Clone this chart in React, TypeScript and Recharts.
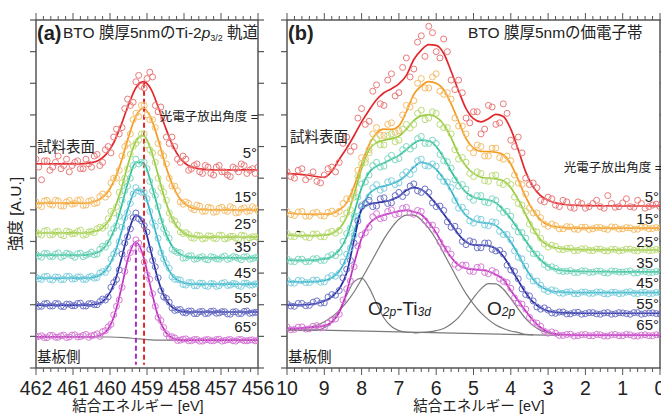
import React from 'react';
import { ComposedChart, Line, Scatter, XAxis, YAxis, ReferenceArea } from 'recharts';

const FONT = "'Liberation Sans', 'Noto Sans CJK JP', Arial, sans-serif";
const AXIS = '#555';

// ---------- shared ----------
const angleLabels = ['5°', '15°', '25°', '35°', '45°', '55°', '65°'];
const LINE_COLORS = ['#e3262c', '#f39a1f', '#98c93c', '#2fbf9a', '#2fb3c8', '#262aa0', '#c22fc0'];
const PT_COLORS = ['#ea7a7a', '#f5be6a', '#bcdc7a', '#7fd8c0', '#7fd0de', '#6f74c8', '#d77ad6'];
const yTicks = [0, 1, 2, 3, 4, 5, 6, 7, 8, 9, 10, 11];

// ---------- panel (a): Ti-2p3/2 ----------
const tiMajorTicks = [462, 461, 460, 459, 458, 457, 456];
const tiFitE = [462, 461.5, 461, 460.7, 460.5, 460.3, 460.1, 459.9, 459.7, 459.5, 459.3, 459.1, 458.9, 458.7, 458.5, 458.3, 458.1, 457.9, 457.6, 457.2, 456.8, 456.4, 456];
const tiFit05 = [6.45, 6.45, 6.45, 6.46, 6.49, 6.57, 6.76, 7.12, 7.68, 8.32, 8.86, 9.05, 8.83, 8.26, 7.6, 7.02, 6.62, 6.41, 6.3, 6.26, 6.26, 6.26, 6.26];
const tiFit15 = [5.21, 5.21, 5.21, 5.21, 5.24, 5.32, 5.5, 5.89, 6.51, 7.3, 7.96, 8.21, 7.92, 7.23, 6.41, 5.76, 5.33, 5.13, 5.01, 5.0, 5.0, 5.0, 5.0];
const tiFit25 = [4.27, 4.27, 4.27, 4.27, 4.3, 4.36, 4.55, 4.96, 5.64, 6.49, 7.17, 7.35, 6.92, 6.1, 5.28, 4.68, 4.35, 4.2, 4.14, 4.14, 4.14, 4.14, 4.14];
const tiFit35 = [3.57, 3.57, 3.57, 3.57, 3.6, 3.67, 3.88, 4.33, 5.07, 5.92, 6.5, 6.49, 5.89, 5.04, 4.28, 3.81, 3.6, 3.51, 3.48, 3.48, 3.48, 3.48, 3.48];
const tiFit45 = [2.84, 2.84, 2.84, 2.84, 2.86, 2.92, 3.11, 3.54, 4.26, 5.09, 5.63, 5.56, 4.88, 4.02, 3.31, 2.9, 2.73, 2.67, 2.65, 2.65, 2.65, 2.65, 2.65];
const tiFit55 = [1.99, 1.99, 1.99, 1.99, 2.0, 2.04, 2.21, 2.63, 3.41, 4.31, 4.83, 4.57, 3.71, 2.79, 2.19, 1.9, 1.8, 1.77, 1.77, 1.77, 1.77, 1.77, 1.77];
const tiFit65 = [0.98, 0.98, 0.98, 0.98, 0.98, 1.02, 1.16, 1.6, 2.48, 3.51, 3.99, 3.54, 2.54, 1.64, 1.14, 0.94, 0.89, 0.88, 0.88, 0.88, 0.88, 0.88, 0.88];

// measured points, first pass
const tiPtE = [462, 461.85, 461.7, 461.55, 461.4, 461.25, 461.1, 460.95, 460.8, 460.65, 460.5, 460.35, 460.2, 460.05, 459.9, 459.75, 459.6, 459.45, 459.3, 459.15, 459.0, 458.85, 458.7, 458.55, 458.4, 458.25, 458.1, 457.95, 457.8, 457.65, 457.5, 457.35, 457.2, 457.05, 456.9, 456.75, 456.6, 456.45, 456.3, 456.15, 456];
const tiPt05 = [6.6, 5.95, 6.55, 6.35, 6.7, 6.4, 6.2, 6.5, 6.3, 6.6, 6.35, 6.75, 6.5, 7.0, 7.3, 7.4, 8.2, 8.3, 9.05, 8.9, 9.15, 9.2, 8.1, 7.9, 7.1, 7.0, 6.5, 6.6, 6.3, 6.45, 6.15, 6.35, 6.1, 6.4, 6.2, 6.05, 6.3, 6.45, 6.15, 6.3, 6.35];
const tiPt15 = [5.25, 5.1, 5.3, 5.15, 5.28, 5.12, 5.3, 5.2, 5.32, 5.15, 5.3, 5.22, 5.5, 5.5, 6.0, 6.25, 7.0, 7.4, 8.05, 8.3, 8.0, 7.85, 7.1, 6.7, 6.0, 5.75, 5.25, 5.25, 5.05, 5.15, 4.95, 5.08, 4.92, 5.05, 4.98, 5.1, 4.9, 5.02, 4.95, 5.1, 4.97];
const tiPt25 = [4.3, 4.2, 4.35, 4.22, 4.32, 4.18, 4.3, 4.25, 4.36, 4.22, 4.32, 4.4, 4.42, 4.72, 4.9, 5.55, 6.0, 6.75, 7.1, 7.4, 7.05, 6.8, 6.0, 5.55, 4.9, 4.65, 4.3, 4.28, 4.12, 4.2, 4.08, 4.18, 4.1, 4.2, 4.08, 4.16, 4.1, 4.2, 4.06, 4.15, 4.12];
const tiPt35 = [3.6, 3.5, 3.62, 3.52, 3.64, 3.55, 3.6, 3.5, 3.63, 3.56, 3.66, 3.6, 3.85, 3.95, 4.4, 4.8, 5.6, 6.0, 6.6, 6.5, 6.3, 5.6, 5.1, 4.4, 4.1, 3.7, 3.65, 3.48, 3.55, 3.45, 3.52, 3.42, 3.5, 3.44, 3.54, 3.46, 3.5, 3.42, 3.52, 3.46, 3.5];
const tiPt45 = [2.88, 2.8, 2.9, 2.78, 2.87, 2.8, 2.9, 2.82, 2.88, 2.8, 2.9, 2.86, 3.05, 3.15, 3.6, 4.0, 4.75, 5.2, 5.7, 5.55, 5.35, 4.6, 4.1, 3.45, 3.15, 2.8, 2.78, 2.62, 2.7, 2.6, 2.68, 2.58, 2.66, 2.6, 2.7, 2.62, 2.66, 2.58, 2.68, 2.62, 2.66];
const tiPt55 = [2.02, 1.95, 2.04, 1.96, 2.03, 1.94, 2.02, 1.97, 2.05, 1.96, 2.04, 2.0, 2.18, 2.25, 2.7, 3.1, 3.95, 4.4, 4.9, 4.65, 4.3, 3.4, 2.85, 2.25, 2.08, 1.82, 1.85, 1.74, 1.8, 1.72, 1.79, 1.73, 1.8, 1.74, 1.78, 1.7, 1.78, 1.72, 1.8, 1.74, 1.76];
const tiPt65 = [0.98, 1.02, 0.96, 1.03, 0.97, 1.04, 0.98, 1.05, 0.99, 1.06, 1.02, 1.08, 1.15, 1.3, 1.68, 2.15, 3.05, 3.65, 4.05, 3.75, 2.95, 2.35, 1.6, 1.28, 0.98, 0.95, 0.88, 0.92, 0.86, 0.9, 0.85, 0.9, 0.86, 0.91, 0.87, 0.9, 0.85, 0.9, 0.86, 0.89, 0.87];

// measured points, interleaved pass
const tiPtE2 = [461.925, 461.775, 461.625, 461.475, 461.325, 461.175, 461.025, 460.875, 460.725, 460.575, 460.425, 460.275, 460.125, 459.975, 459.825, 459.675, 459.525, 459.375, 459.225, 459.075, 458.925, 458.775, 458.625, 458.475, 458.325, 458.175, 458.025, 457.875, 457.725, 457.575, 457.425, 457.275, 457.125, 456.975, 456.825, 456.675, 456.525, 456.375, 456.225, 456.075];
const tiPt05b = [6.35, 6.55, 6.25, 6.5, 6.3, 6.6, 6.4, 6.55, 6.3, 6.45, 6.7, 6.4, 6.9, 6.8, 7.55, 7.6, 8.5, 8.4, 9.25, 8.85, 9.35, 8.3, 8.25, 7.3, 7.3, 6.6, 6.7, 6.25, 6.4, 6.2, 6.4, 6.15, 6.35, 6.2, 6.1, 6.35, 6.2, 6.4, 6.25, 6.15];
const tiPt15b = [5.15, 5.28, 5.18, 5.3, 5.12, 5.25, 5.18, 5.3, 5.14, 5.27, 5.2, 5.42, 5.4, 5.85, 6.0, 6.7, 7.1, 7.85, 7.95, 8.3, 7.85, 7.6, 6.8, 6.45, 5.75, 5.6, 5.18, 5.2, 5.0, 5.12, 4.96, 5.06, 4.94, 5.08, 4.95, 5.05, 4.92, 5.06, 4.97, 5.04];
const tiPt25b = [4.24, 4.33, 4.2, 4.3, 4.21, 4.33, 4.24, 4.32, 4.2, 4.3, 4.28, 4.45, 4.5, 4.95, 5.1, 5.85, 6.3, 7.0, 7.2, 7.4, 6.9, 6.5, 5.7, 5.3, 4.7, 4.52, 4.25, 4.22, 4.1, 4.18, 4.1, 4.17, 4.09, 4.19, 4.1, 4.16, 4.08, 4.18, 4.11, 4.15];
const tiPt35b = [3.54, 3.62, 3.53, 3.6, 3.5, 3.63, 3.55, 3.61, 3.52, 3.6, 3.58, 3.75, 3.82, 4.25, 4.5, 5.3, 5.75, 6.4, 6.45, 6.5, 5.9, 5.45, 4.65, 4.25, 3.75, 3.65, 3.47, 3.54, 3.44, 3.5, 3.44, 3.52, 3.45, 3.5, 3.43, 3.52, 3.46, 3.51, 3.44, 3.49];
const tiPt45b = [2.82, 2.89, 2.8, 2.88, 2.79, 2.9, 2.81, 2.88, 2.8, 2.87, 2.84, 3.0, 3.02, 3.45, 3.7, 4.45, 4.92, 5.5, 5.6, 5.55, 4.95, 4.48, 3.65, 3.3, 2.88, 2.8, 2.64, 2.7, 2.6, 2.68, 2.6, 2.67, 2.58, 2.68, 2.61, 2.67, 2.6, 2.68, 2.62, 2.66];
const tiPt55b = [1.95, 2.03, 1.96, 2.04, 1.95, 2.02, 1.97, 2.04, 1.96, 2.03, 2.0, 2.1, 2.15, 2.55, 2.8, 3.6, 4.15, 4.75, 4.72, 4.5, 3.75, 3.2, 2.45, 2.2, 1.9, 1.84, 1.76, 1.8, 1.72, 1.78, 1.72, 1.79, 1.73, 1.78, 1.71, 1.77, 1.72, 1.79, 1.73, 1.76];
const tiPt65b = [1.0, 0.96, 1.03, 0.97, 1.02, 0.96, 1.04, 0.98, 1.03, 0.97, 1.04, 1.0, 1.18, 1.38, 1.95, 2.55, 3.45, 3.8, 3.95, 3.35, 2.8, 1.95, 1.5, 1.08, 0.99, 0.87, 0.91, 0.86, 0.9, 0.85, 0.89, 0.86, 0.9, 0.85, 0.89, 0.86, 0.9, 0.86, 0.88, 0.86];

const tiBgE = [462, 460.0, 459.6, 459.3, 459.0, 458.6, 456];
const tiBgV = [0.99, 0.98, 0.96, 0.93, 0.9, 0.88, 0.87];
const tiPeakE = [459.08, 459.3];
const tiPeakTop = [9.02, 3.99];
const tiPeakBottom = 0.1;

// ---------- panel (b): valence band ----------
const vbMajorTicks = [10, 9, 8, 7, 6, 5, 4, 3, 2, 1, 0];
const vbFitE = [10, 9.5, 9.0, 8.8, 8.6, 8.4, 8.2, 8.0, 7.8, 7.6, 7.4, 7.2, 7.0, 6.8, 6.6, 6.4, 6.2, 6.0, 5.8, 5.6, 5.4, 5.2, 5.0, 4.8, 4.6, 4.4, 4.2, 4.0, 3.8, 3.6, 3.4, 3.2, 3.0, 2.8, 2.5, 2.0, 1.0, 0];
const vbFit05 = [6.15, 6.1, 6.03, 6.22, 6.6, 6.95, 7.35, 7.78, 8.15, 8.48, 8.7, 8.83, 8.98, 9.25, 9.75, 10.05, 10.22, 10.2, 9.95, 9.38, 8.76, 8.2, 7.88, 7.78, 7.88, 8.02, 7.95, 7.55, 6.9, 6.2, 5.72, 5.45, 5.3, 5.22, 5.16, 5.13, 5.12, 5.12];
const vbFit15 = [4.9, 4.86, 4.86, 4.88, 5.0, 5.22, 5.75, 6.45, 7.05, 7.42, 7.55, 7.54, 7.65, 8.1, 8.65, 8.92, 9.05, 9.0, 8.8, 8.35, 7.8, 7.25, 6.95, 6.85, 6.84, 6.82, 6.74, 6.45, 5.95, 5.4, 4.98, 4.68, 4.52, 4.47, 4.43, 4.42, 4.42, 4.42];
const vbFit25 = [4.2, 4.18, 4.2, 4.25, 4.4, 4.78, 5.5, 6.3, 6.9, 7.12, 7.2, 7.25, 7.33, 7.55, 7.82, 7.97, 8.0, 7.93, 7.7, 7.28, 6.75, 6.38, 6.15, 6.03, 6.0, 5.98, 5.92, 5.7, 5.32, 4.85, 4.4, 4.05, 3.88, 3.8, 3.76, 3.74, 3.73, 3.73];
const vbFit35 = [3.41, 3.4, 3.45, 3.52, 3.72, 4.15, 4.9, 5.7, 6.18, 6.38, 6.48, 6.6, 6.72, 6.9, 7.1, 7.2, 7.18, 7.0, 6.65, 6.22, 5.85, 5.55, 5.4, 5.34, 5.31, 5.22, 5.0, 4.72, 4.38, 4.02, 3.68, 3.42, 3.22, 3.12, 3.07, 3.05, 3.04, 3.04];
const vbFit45 = [2.73, 2.72, 2.76, 2.85, 3.05, 3.5, 4.3, 5.05, 5.5, 5.68, 5.75, 5.82, 5.92, 6.1, 6.35, 6.5, 6.45, 6.28, 5.98, 5.6, 5.15, 4.82, 4.66, 4.6, 4.58, 4.5, 4.3, 3.98, 3.58, 3.15, 2.8, 2.58, 2.46, 2.41, 2.39, 2.38, 2.38, 2.38];
const vbFit55 = [1.99, 2.0, 2.12, 2.25, 2.5, 3.0, 4.05, 5.0, 5.18, 5.22, 5.26, 5.32, 5.42, 5.62, 5.7, 5.64, 5.45, 5.18, 4.87, 4.55, 4.22, 3.98, 3.89, 3.88, 3.87, 3.77, 3.53, 3.16, 2.76, 2.38, 2.08, 1.9, 1.8, 1.76, 1.74, 1.73, 1.73, 1.73];
const vbFit65 = [1.25, 1.27, 1.33, 1.46, 1.75, 2.4, 3.3, 4.1, 4.55, 4.75, 4.84, 4.9, 4.96, 4.98, 4.94, 4.85, 4.6, 4.27, 3.86, 3.5, 3.25, 3.15, 3.12, 3.1, 3.06, 2.95, 2.8, 2.45, 2.12, 1.8, 1.5, 1.28, 1.14, 1.08, 1.05, 1.04, 1.04, 1.04];

// measured points at even tenths
const vbPtE = [10, 9.8, 9.6, 9.4, 9.2, 9, 8.8, 8.6, 8.4, 8.2, 8, 7.8, 7.6, 7.4, 7.2, 7, 6.8, 6.6, 6.4, 6.2, 6, 5.8, 5.6, 5.4, 5.2, 5, 4.8, 4.6, 4.4, 4.2, 4, 3.8, 3.6, 3.4, 3.2, 3, 2.8, 2.6, 2.4, 2.2, 2, 1.8, 1.6, 1.4, 1.2, 1, 0.8, 0.6, 0.4, 0.2, 0];
const vbPt05 = [6.2, 6.0, 6.3, 6.05, 5.9, 6.1, 6.35, 6.5, 7.3, 7.0, 8.2, 7.8, 8.95, 8.3, 9.3, 8.7, 9.8, 9.45, 10.5, 10.8, 10.0, 10.4, 9.1, 9.1, 7.9, 8.1, 7.4, 8.3, 7.7, 8.35, 7.2, 7.3, 6.0, 5.85, 5.3, 5.4, 5.15, 5.3, 5.08, 5.25, 5.05, 5.2, 5.1, 5.45, 5.08, 5.22, 5.1, 5.3, 5.05, 5.15, 5.1];
const vbPt15 = [4.95, 4.82, 4.95, 4.8, 4.92, 4.8, 4.96, 4.95, 5.35, 5.6, 6.65, 6.9, 7.6, 7.35, 7.75, 7.5, 8.3, 8.45, 9.15, 8.85, 9.3, 8.65, 8.5, 7.65, 7.4, 6.8, 7.0, 6.7, 6.95, 6.6, 6.55, 5.85, 5.5, 4.9, 4.75, 4.48, 4.5, 4.4, 4.46, 4.38, 4.45, 4.4, 4.44, 4.38, 4.45, 4.4, 4.43, 4.39, 4.45, 4.41, 4.43];
const vbPt25 = [4.25, 4.15, 4.22, 4.12, 4.24, 4.15, 4.32, 4.35, 4.9, 5.4, 6.45, 6.8, 7.25, 7.05, 7.4, 7.2, 7.7, 7.7, 8.15, 7.9, 8.05, 7.6, 7.4, 6.6, 6.5, 6.05, 6.15, 5.9, 6.1, 5.8, 5.8, 5.2, 4.95, 4.35, 4.1, 3.82, 3.85, 3.74, 3.79, 3.72, 3.77, 3.71, 3.76, 3.7, 3.75, 3.72, 3.76, 3.7, 3.75, 3.72, 3.74];
const vbPt35 = [3.45, 3.36, 3.44, 3.37, 3.46, 3.4, 3.58, 3.66, 4.25, 4.8, 5.82, 6.1, 6.5, 6.38, 6.72, 6.62, 7.0, 7.02, 7.32, 7.1, 7.1, 6.55, 6.32, 5.75, 5.65, 5.3, 5.45, 5.22, 5.3, 4.92, 4.8, 4.3, 4.1, 3.62, 3.48, 3.18, 3.15, 3.05, 3.08, 3.02, 3.07, 3.03, 3.06, 3.0, 3.06, 3.03, 3.07, 3.01, 3.05, 3.02, 3.05];
const vbPt45 = [2.78, 2.68, 2.76, 2.7, 2.78, 2.72, 2.92, 3.0, 3.6, 4.2, 5.15, 5.42, 5.8, 5.68, 5.92, 5.85, 6.2, 6.28, 6.6, 6.38, 6.38, 5.9, 5.7, 5.05, 4.92, 4.58, 4.7, 4.5, 4.6, 4.22, 4.05, 3.5, 3.22, 2.75, 2.62, 2.42, 2.44, 2.36, 2.41, 2.35, 2.4, 2.36, 2.4, 2.34, 2.39, 2.36, 2.41, 2.35, 2.39, 2.36, 2.38];
const vbPt55 = [2.03, 1.95, 2.04, 1.98, 2.12, 2.06, 2.32, 2.45, 3.12, 3.95, 5.1, 5.3, 5.12, 5.38, 5.22, 5.55, 5.55, 5.82, 5.55, 5.55, 5.1, 4.98, 4.45, 4.32, 3.9, 3.98, 3.8, 3.95, 3.7, 3.6, 3.1, 2.82, 2.32, 2.12, 1.86, 1.83, 1.73, 1.77, 1.71, 1.76, 1.72, 1.75, 1.7, 1.75, 1.71, 1.74, 1.7, 1.75, 1.72, 1.74, 1.71];
const vbPt65 = [1.3, 1.22, 1.3, 1.24, 1.34, 1.28, 1.52, 1.7, 2.5, 3.2, 4.2, 4.45, 4.88, 4.75, 5.0, 4.88, 5.08, 4.86, 4.95, 4.52, 4.35, 3.78, 3.6, 3.18, 3.25, 3.05, 3.2, 2.98, 3.02, 2.74, 2.52, 2.06, 1.86, 1.45, 1.32, 1.1, 1.1, 1.03, 1.07, 1.02, 1.06, 1.02, 1.05, 1.01, 1.06, 1.02, 1.05, 1.01, 1.05, 1.02, 1.04];

// measured points at odd tenths
const vbPtE2 = [9.9, 9.7, 9.5, 9.3, 9.1, 8.9, 8.7, 8.5, 8.3, 8.1, 7.9, 7.7, 7.5, 7.3, 7.1, 6.9, 6.7, 6.5, 6.3, 6.1, 5.9, 5.7, 5.5, 5.3, 5.1, 4.9, 4.7, 4.5, 4.3, 4.1, 3.9, 3.7, 3.5, 3.3, 3.1, 2.9, 2.7, 2.5, 2.3, 2.1, 1.9, 1.7, 1.5, 1.3, 1.1, 0.9, 0.7, 0.5, 0.3, 0.1];
const vbPt05b = [6.05, 6.25, 5.95, 6.2, 5.85, 6.3, 6.2, 7.1, 6.85, 7.9, 7.7, 8.75, 8.35, 9.1, 8.6, 9.5, 9.2, 10.3, 9.85, 10.6, 9.8, 10.0, 8.8, 8.7, 7.75, 8.1, 7.55, 8.25, 7.75, 8.05, 7.0, 6.8, 5.8, 5.7, 5.25, 5.35, 5.1, 5.25, 5.05, 5.2, 5.1, 5.3, 5.05, 5.2, 5.1, 5.35, 5.08, 5.2, 5.1, 5.18];
const vbPt15b = [4.85, 4.93, 4.8, 4.9, 4.82, 4.92, 4.88, 5.2, 5.35, 6.25, 6.6, 7.4, 7.35, 7.7, 7.45, 8.0, 8.25, 9.0, 8.85, 9.2, 8.75, 8.7, 7.9, 7.65, 6.95, 7.05, 6.7, 6.95, 6.65, 6.7, 6.1, 5.8, 5.05, 4.9, 4.55, 4.55, 4.4, 4.47, 4.39, 4.45, 4.38, 4.44, 4.4, 4.46, 4.39, 4.44, 4.38, 4.45, 4.4, 4.44];
const vbPt25b = [4.16, 4.24, 4.14, 4.23, 4.15, 4.27, 4.26, 4.7, 5.0, 6.05, 6.5, 7.15, 7.05, 7.35, 7.15, 7.55, 7.58, 8.05, 7.85, 8.1, 7.7, 7.6, 6.9, 6.65, 6.15, 6.2, 5.92, 6.08, 5.85, 5.9, 5.4, 5.15, 4.55, 4.3, 3.92, 3.88, 3.75, 3.78, 3.71, 3.77, 3.72, 3.76, 3.71, 3.75, 3.7, 3.76, 3.72, 3.75, 3.71, 3.75];
const vbPt35b = [3.37, 3.44, 3.36, 3.45, 3.4, 3.52, 3.55, 4.0, 4.42, 5.4, 5.88, 6.4, 6.35, 6.62, 6.58, 6.9, 6.92, 7.25, 7.1, 7.2, 6.75, 6.52, 5.95, 5.8, 5.4, 5.45, 5.25, 5.35, 5.05, 4.95, 4.48, 4.28, 3.78, 3.6, 3.27, 3.2, 3.07, 3.06, 3.02, 3.07, 3.02, 3.06, 3.01, 3.07, 3.03, 3.05, 3.0, 3.06, 3.02, 3.05];
const vbPt45b = [2.69, 2.77, 2.7, 2.78, 2.71, 2.85, 2.9, 3.35, 3.8, 4.8, 5.2, 5.7, 5.62, 5.88, 5.8, 6.1, 6.12, 6.55, 6.4, 6.45, 6.05, 5.88, 5.3, 5.08, 4.65, 4.72, 4.52, 4.62, 4.32, 4.22, 3.7, 3.45, 2.9, 2.75, 2.48, 2.47, 2.37, 2.4, 2.35, 2.4, 2.36, 2.4, 2.35, 2.39, 2.35, 2.4, 2.36, 2.39, 2.35, 2.39];
const vbPt55b = [1.96, 2.04, 1.97, 2.08, 2.05, 2.24, 2.3, 2.85, 3.4, 4.65, 5.2, 5.1, 5.35, 5.2, 5.45, 5.42, 5.75, 5.6, 5.66, 5.22, 5.12, 4.62, 4.48, 4.0, 4.02, 3.8, 3.95, 3.75, 3.72, 3.25, 3.05, 2.5, 2.28, 1.93, 1.9, 1.74, 1.77, 1.71, 1.75, 1.7, 1.75, 1.71, 1.74, 1.7, 1.75, 1.72, 1.75, 1.7, 1.74, 1.72];
const vbPt65b = [1.21, 1.29, 1.23, 1.32, 1.27, 1.42, 1.55, 2.15, 2.75, 3.85, 4.28, 4.78, 4.72, 4.95, 4.85, 5.05, 4.9, 4.98, 4.66, 4.52, 3.98, 3.75, 3.28, 3.25, 3.06, 3.18, 3.02, 3.08, 2.82, 2.7, 2.22, 2.02, 1.6, 1.42, 1.16, 1.14, 1.03, 1.06, 1.01, 1.05, 1.02, 1.06, 1.01, 1.05, 1.02, 1.06, 1.01, 1.04, 1.02, 1.05];

// fitted components (grey)
const vbBgE = [10, 2.7];
const vbBgV = [1.22, 1.03];
const vbTi3dSmallE = [10, 9.6, 9.4, 9.2, 9.0, 8.8, 8.6, 8.4, 8.2, 8.0, 7.8, 7.6, 7.4, 7.2, 7.0, 6.8, 6.5];
const vbTi3dSmallV = [1.2, 1.19, 1.19, 1.2, 1.27, 1.45, 1.82, 2.31, 2.73, 2.84, 2.54, 2.04, 1.58, 1.31, 1.18, 1.13, 1.12];
const vbTi3dMainE = [10, 9.6, 9.2, 9.0, 8.8, 8.6, 8.4, 8.2, 8.0, 7.8, 7.6, 7.4, 7.2, 7.0, 6.8, 6.6, 6.4, 6.2, 6.0, 5.8, 5.6, 5.4, 5.2, 5.0, 4.8, 4.6, 4.4, 4.2, 4.0, 3.8, 3.6, 3.4];
const vbTi3dMainV = [1.22, 1.26, 1.35, 1.46, 1.61, 1.82, 2.08, 2.41, 2.81, 3.23, 3.66, 4.08, 4.43, 4.7, 4.83, 4.83, 4.68, 4.41, 4.06, 3.63, 3.19, 2.75, 2.35, 2.02, 1.74, 1.53, 1.36, 1.25, 1.17, 1.12, 1.06, 1.05];
const vbO2pE = [6.6, 6.2, 6.0, 5.8, 5.6, 5.4, 5.2, 5.0, 4.8, 4.6, 4.4, 4.2, 4.0, 3.8, 3.6, 3.4, 3.2, 3.0, 2.8, 2.6];
const vbO2pV = [1.11, 1.14, 1.18, 1.25, 1.39, 1.6, 1.9, 2.22, 2.5, 2.67, 2.66, 2.49, 2.19, 1.87, 1.56, 1.34, 1.19, 1.11, 1.07, 1.04];

// ---------- helpers ----------
const zip = (es: number[], vs: number[]) => es.map((e, i) => ({ e, v: vs[i] }));
const minorTicks = (majors: number[]) => {
  const lo = Math.min(...majors), hi = Math.max(...majors);
  const out: number[] = [];
  for (let k = 0; k <= Math.round((hi - lo) * 5); k++) out.push(+(lo + k * 0.2).toFixed(1));
  return out;
};

const tiFits = [tiFit05, tiFit15, tiFit25, tiFit35, tiFit45, tiFit55, tiFit65].map((v) => zip(tiFitE, v));
const tiPtsA = [tiPt05, tiPt15, tiPt25, tiPt35, tiPt45, tiPt55, tiPt65];
const tiPtsB = [tiPt05b, tiPt15b, tiPt25b, tiPt35b, tiPt45b, tiPt55b, tiPt65b];
const tiPts = tiPtsA.map((v, i) => zip(tiPtE, v).concat(zip(tiPtE2, tiPtsB[i])));
const vbFits = [vbFit05, vbFit15, vbFit25, vbFit35, vbFit45, vbFit55, vbFit65].map((v) => zip(vbFitE, v));
const vbPtsA = [vbPt05, vbPt15, vbPt25, vbPt35, vbPt45, vbPt55, vbPt65];
const vbPtsB = [vbPt05b, vbPt15b, vbPt25b, vbPt35b, vbPt45b, vbPt55b, vbPt65b];
const vbPts = vbPtsA.map((v, i) => zip(vbPtE, v).concat(zip(vbPtE2, vbPtsB[i])));

const PLOT_H = 348;

const xTick = (p: any) => {
  const v = p.payload.value;
  const major = Math.abs(v - Math.round(v)) < 1e-6;
  const len = major ? 7 : 4;
  const x = p.x, y = p.y;
  return (
    <g>
      <line x1={x} x2={x} y1={y} y2={y + len} stroke={AXIS} strokeWidth={1} />
      <line x1={x} x2={x} y1={y - PLOT_H} y2={y - PLOT_H - len} stroke={AXIS} strokeWidth={1} />
      {major ? (
        <text x={x} y={y + 27} textAnchor="middle" fontSize={19.5} fill="#222" fontFamily={FONT}>
          {Math.round(v)}
        </text>
      ) : null}
    </g>
  );
};

const yTickFor = (plotW: number) => (p: any) => (
  <g>
    <line x1={p.x} x2={p.x - 6} y1={p.y} y2={p.y} stroke={AXIS} strokeWidth={1.2} />
    <line x1={p.x + plotW} x2={p.x + plotW + 6} y1={p.y} y2={p.y} stroke={AXIS} strokeWidth={1.2} />
  </g>
);

const ring = (color: string) => (p: any) =>
  p.cx == null ? <g /> : <circle cx={p.cx} cy={p.cy} r={3} fill="none" stroke={color} strokeWidth={1} />;

function Panel(props: {
  domain: [number, number];
  majors: number[];
  margin: { top: number; right: number; bottom: number; left: number };
  plotW: number;
  pts: { e: number; v: number }[][];
  fits: { e: number; v: number }[][];
  greys: { e: number; v: number }[][];
  markers?: { e: number; v: number }[][];
}) {
  const { domain, majors, margin, plotW, pts, fits, greys, markers } = props;
  return (
    <ComposedChart width={661} height={414} margin={margin}>
      <XAxis
        dataKey="e" type="number" domain={domain} reversed allowDataOverflow
        ticks={minorTicks(majors)} interval={0} height={1} tickSize={0} tickMargin={0}
        axisLine={false} tickLine={false} tick={xTick}
      />
      <YAxis
        dataKey="v" type="number" domain={[0, 11]} allowDataOverflow
        ticks={yTicks} interval={0} width={1} tickSize={0} tickMargin={0}
        axisLine={false} tickLine={false} tick={yTickFor(plotW)}
      />
      <ReferenceArea x1={domain[0]} x2={domain[1]} y1={0} y2={11} fill="none" fillOpacity={0} stroke={AXIS} strokeWidth={1.5} />
      {greys.map((d, i) => (
        <Line key={'g' + i} data={d} dataKey="v" type="monotone" stroke="#7a7a7a" strokeWidth={1.2} dot={false} isAnimationActive={false} />
      ))}
      {pts.map((d, i) => (
        <Scatter key={'s' + i} data={d} dataKey="v" fill="none" shape={ring(PT_COLORS[i])} isAnimationActive={false} />
      ))}
      {fits.map((d, i) => (
        <Line key={'f' + i} data={d} dataKey="v" type="monotone" stroke={LINE_COLORS[i]} strokeWidth={1.7} dot={false} isAnimationActive={false} />
      ))}
      {(markers || []).map((d, i) => (
        <Line key={'m' + i} data={d} dataKey="v" type="linear" stroke={i === 0 ? '#e3262c' : '#a62fc0'} strokeWidth={2} strokeDasharray="5 3" dot={false} isAnimationActive={false} />
      ))}
    </ComposedChart>
  );
}

const tiMarkers = tiPeakE.map((e, i) => [{ e, v: tiPeakTop[i] }, { e, v: tiPeakBottom }]);

const tiAngleY = [158, 202, 229, 252, 278, 303, 332];
const vbAngleY = [202, 224, 247, 268, 288, 309, 330];

function Annotations() {
  return (
    <svg width={661} height={414} style={{ position: 'absolute', left: 0, top: 0, pointerEvents: 'none' }} fontFamily={FONT} fill="#222">
      <text x={37} y={40} fontSize={20} fontWeight="bold">(a)</text>
      <text x={63} y={38} fontSize={15.5}>
        BTO 膜厚5nmのTi-2<tspan fontStyle="italic">p</tspan>
        <tspan fontSize={9} dy={3}>3/2</tspan>
        <tspan dy={-3}> 軌道</tspan>
      </text>
      <text x={288} y={40} fontSize={20} fontWeight="bold">(b)</text>
      <text x={468} y={38} fontSize={15.5}>BTO 膜厚5nmの価電子帯</text>

      <text x={258} y={121} fontSize={12.5} textAnchor="end">光電子放出角度 =</text>
      <text x={662} y={172} fontSize={12.5} textAnchor="end">光電子放出角度 =</text>

      {angleLabels.map((t, i) => (
        <text key={'ta' + i} x={257} y={tiAngleY[i]} fontSize={15} textAnchor="end">{t}</text>
      ))}
      {angleLabels.map((t, i) => (
        <text key={'tb' + i} x={659} y={vbAngleY[i]} fontSize={15} textAnchor="end">{t}</text>
      ))}

      <text x={37} y={152} fontSize={14.5}>試料表面</text>
      <text x={290} y={142} fontSize={14.5}>試料表面</text>
      <text x={37} y={362} fontSize={14.5}>基板側</text>
      <text x={288} y={362} fontSize={14.5}>基板側</text>
      <text x={296} y={236} fontSize={14}>-</text>

      <text transform="translate(20.5,214) rotate(-90)" textAnchor="middle" fontSize={15.5}>強度 [A.U.]</text>
      <text x={138} y={411} textAnchor="middle" fontSize={14.5}>結合エネルギー [eV]</text>
      <text x={479} y={411} textAnchor="middle" fontSize={14.5}>結合エネルギー [eV]</text>

      <text x={368} y={315} fontSize={19}>
        O<tspan fontSize={12} fontStyle="italic" dy={1}>2p</tspan>
        <tspan dy={-1}>-Ti</tspan>
        <tspan fontSize={12} fontStyle="italic" dy={1}>3d</tspan>
      </text>
      <text x={487} y={315} fontSize={19}>
        O<tspan fontSize={12} fontStyle="italic" dy={1}>2p</tspan>
      </text>
    </svg>
  );
}

export default function App() {
  return (
    <div style={{ position: 'absolute', left: 0, top: 0, width: 661, height: 414, background: '#fff', overflow: 'hidden' }}>
      <div style={{ position: 'absolute', left: 0, top: 0 }}>
        <Panel
          domain={[456, 462]}
          majors={tiMajorTicks}
          margin={{ top: 20, right: 403, bottom: 45, left: 35 }}
          plotW={222}
          pts={tiPts}
          fits={tiFits}
          greys={[zip(tiBgE, tiBgV)]}
          markers={tiMarkers}
        />
      </div>
      <div style={{ position: 'absolute', left: 0, top: 0 }}>
        <Panel
          domain={[0, 10]}
          majors={vbMajorTicks}
          margin={{ top: 20, right: 1, bottom: 45, left: 286 }}
          plotW={373}
          pts={vbPts}
          fits={vbFits}
          greys={[zip(vbBgE, vbBgV), zip(vbTi3dSmallE, vbTi3dSmallV), zip(vbTi3dMainE, vbTi3dMainV), zip(vbO2pE, vbO2pV)]}
        />
      </div>
      <Annotations />
    </div>
  );
}
